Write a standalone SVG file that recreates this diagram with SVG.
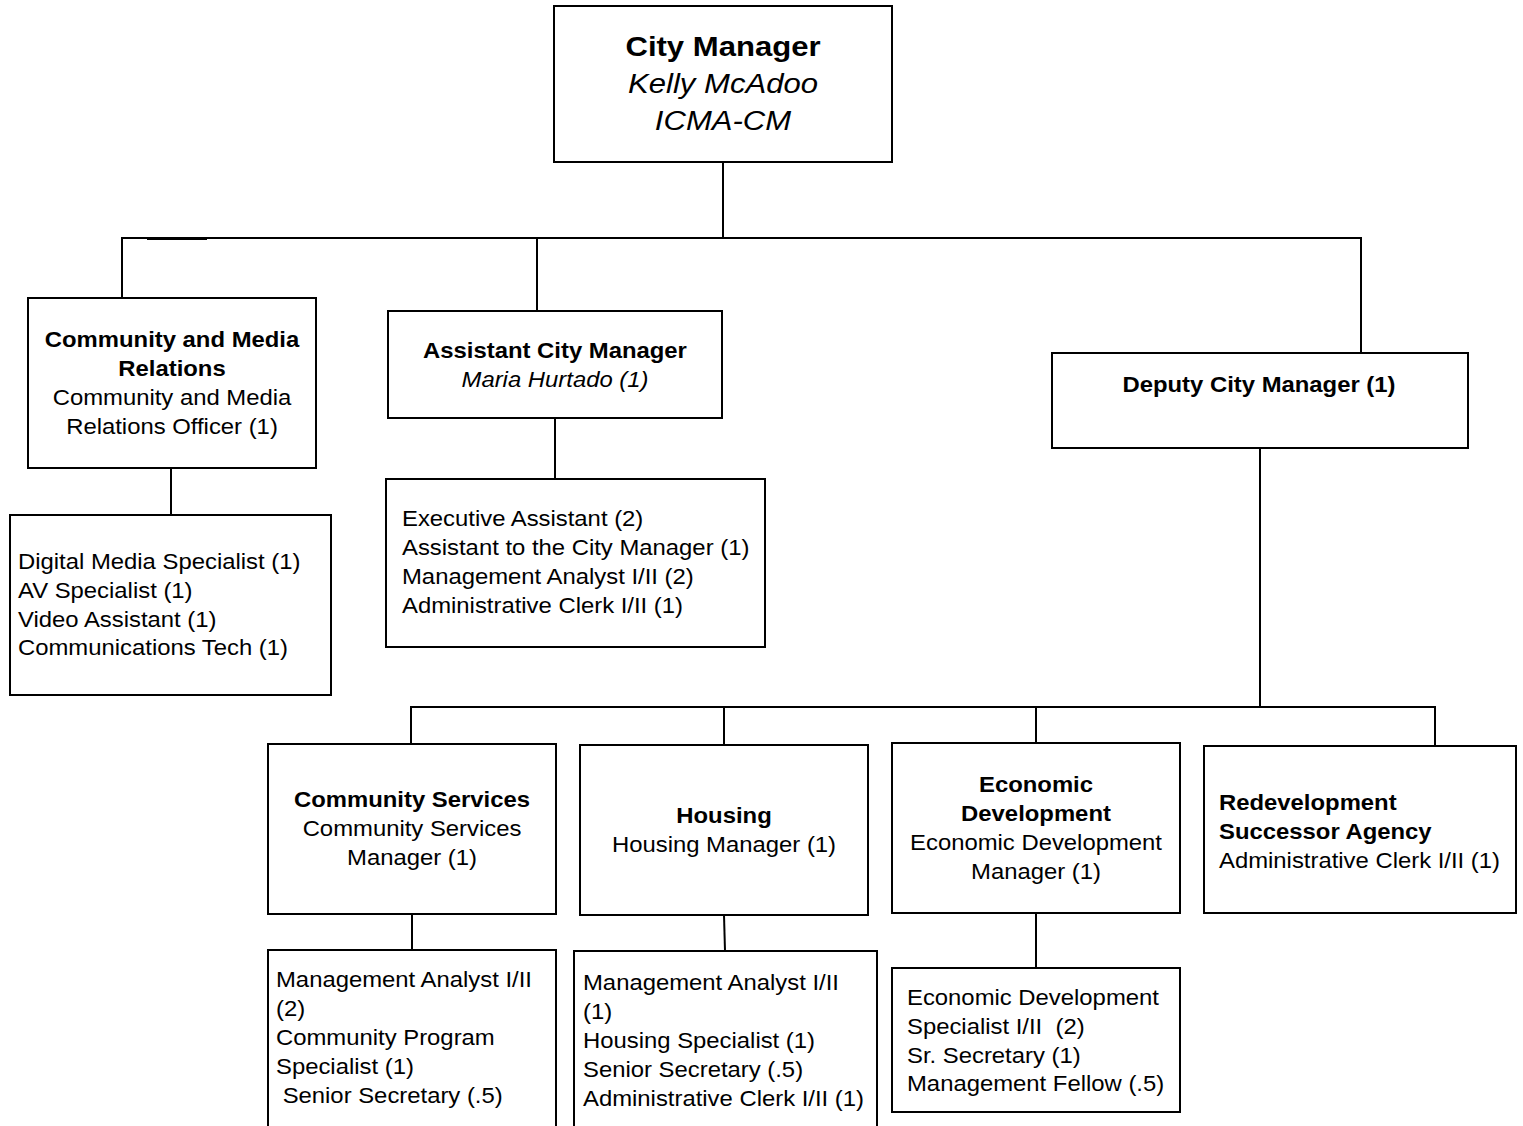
<svg xmlns="http://www.w3.org/2000/svg" width="1523" height="1126" viewBox="0 0 1523 1126">
  <style>
    .box { fill: #ffffff; stroke: #000000; stroke-width: 2; }
    .wire { fill: none; stroke: #000000; stroke-width: 2; }
    text { font-family: "Liberation Sans", Arial, sans-serif; font-size: 21.5px; fill: #000000; }
    .b { font-weight: bold; }
    .i { font-style: italic; }
    .c { text-anchor: middle; }
    .big { font-size: 28px; }
  </style>
  <rect width="1523" height="1126" fill="#ffffff"/>

  <!-- reporting lines -->
  <g id="connectors">
    <line class="wire" x1="723" y1="162" x2="723" y2="238"/>
    <polyline class="wire" points="122,298 122,238 1361,238 1361,353"/>
    <line class="wire" x1="147" y1="239" x2="207" y2="239"/>
    <line class="wire" x1="537" y1="238" x2="537" y2="311"/>
    <line class="wire" x1="171" y1="468" x2="171" y2="515"/>
    <line class="wire" x1="555" y1="418" x2="555" y2="479"/>
    <line class="wire" x1="1260" y1="448" x2="1260" y2="707"/>
    <polyline class="wire" points="411,744 411,707 1435,707 1435,746"/>
    <line class="wire" x1="724" y1="707" x2="724" y2="745"/>
    <line class="wire" x1="1036" y1="707" x2="1036" y2="743"/>
    <line class="wire" x1="412" y1="914" x2="412" y2="950"/>
    <line class="wire" x1="724" y1="915" x2="725" y2="951"/>
    <line class="wire" x1="1036" y1="913" x2="1036" y2="968"/>
  </g>

  <g id="city-manager">
    <rect class="box" x="554" y="6" width="338" height="156"/>
    <text class="b c big" transform="translate(723 56) scale(1.11 1)">City Manager</text>
    <text class="i c big" transform="translate(723 93) scale(1.11 1)">Kelly McAdoo</text>
    <text class="i c big" transform="translate(723 130) scale(1.11 1)">ICMA-CM</text>
  </g>

  <g id="community-media-relations">
    <rect class="box" x="28" y="298" width="288" height="170"/>
    <text class="b c" transform="translate(172 347) scale(1.11 1)">Community and Media</text>
    <text class="b c" transform="translate(172 376) scale(1.11 1)">Relations</text>
    <text class="c" transform="translate(172 405) scale(1.11 1)">Community and Media</text>
    <text class="c" transform="translate(172 434) scale(1.11 1)">Relations Officer (1)</text>
  </g>

  <g id="community-media-staff">
    <rect class="box" x="10" y="515" width="321" height="180"/>
    <text transform="translate(18 569) scale(1.11 1)">Digital Media Specialist (1)</text>
    <text transform="translate(18 598) scale(1.11 1)">AV Specialist (1)</text>
    <text transform="translate(18 627) scale(1.11 1)">Video Assistant (1)</text>
    <text transform="translate(18 655) scale(1.11 1)">Communications Tech (1)</text>
  </g>

  <g id="assistant-city-manager">
    <rect class="box" x="388" y="311" width="334" height="107"/>
    <text class="b c" transform="translate(555 358) scale(1.11 1)">Assistant City Manager</text>
    <text class="i c" transform="translate(555 387) scale(1.11 1)">Maria Hurtado (1)</text>
  </g>

  <g id="assistant-city-manager-staff">
    <rect class="box" x="386" y="479" width="379" height="168"/>
    <text transform="translate(402 526) scale(1.11 1)">Executive Assistant (2)</text>
    <text transform="translate(402 555) scale(1.11 1)">Assistant to the City Manager (1)</text>
    <text transform="translate(402 584) scale(1.11 1)">Management Analyst I/II (2)</text>
    <text transform="translate(402 613) scale(1.11 1)">Administrative Clerk I/II (1)</text>
  </g>

  <g id="deputy-city-manager">
    <rect class="box" x="1052" y="353" width="416" height="95"/>
    <text class="b c" transform="translate(1259 392) scale(1.11 1)">Deputy City Manager (1)</text>
  </g>

  <g id="community-services">
    <rect class="box" x="268" y="744" width="288" height="170"/>
    <text class="b c" transform="translate(412 807) scale(1.11 1)">Community Services</text>
    <text class="c" transform="translate(412 836) scale(1.11 1)">Community Services</text>
    <text class="c" transform="translate(412 865) scale(1.11 1)">Manager (1)</text>
  </g>

  <g id="community-services-staff">
    <rect class="box" x="268" y="950" width="288" height="190"/>
    <text transform="translate(276 987) scale(1.11 1)">Management Analyst I/II</text>
    <text transform="translate(276 1016) scale(1.11 1)">(2)</text>
    <text transform="translate(276 1045) scale(1.11 1)">Community Program</text>
    <text transform="translate(276 1074) scale(1.11 1)">Specialist (1)</text>
    <text transform="translate(276 1103) scale(1.11 1)" xml:space="preserve"> Senior Secretary (.5)</text>
  </g>

  <g id="housing">
    <rect class="box" x="580" y="745" width="288" height="170"/>
    <text class="b c" transform="translate(724 823) scale(1.11 1)">Housing</text>
    <text class="c" transform="translate(724 852) scale(1.11 1)">Housing Manager (1)</text>
  </g>

  <g id="housing-staff">
    <rect class="box" x="574" y="951" width="303" height="190"/>
    <text transform="translate(583 990) scale(1.11 1)">Management Analyst I/II</text>
    <text transform="translate(583 1019) scale(1.11 1)">(1)</text>
    <text transform="translate(583 1048) scale(1.11 1)">Housing Specialist (1)</text>
    <text transform="translate(583 1077) scale(1.11 1)">Senior Secretary (.5)</text>
    <text transform="translate(583 1106) scale(1.11 1)">Administrative Clerk I/II (1)</text>
  </g>

  <g id="economic-development">
    <rect class="box" x="892" y="743" width="288" height="170"/>
    <text class="b c" transform="translate(1036 792) scale(1.11 1)">Economic</text>
    <text class="b c" transform="translate(1036 821) scale(1.11 1)">Development</text>
    <text class="c" transform="translate(1036 850) scale(1.11 1)">Economic Development</text>
    <text class="c" transform="translate(1036 879) scale(1.11 1)">Manager (1)</text>
  </g>

  <g id="economic-development-staff">
    <rect class="box" x="892" y="968" width="288" height="144"/>
    <text transform="translate(907 1005) scale(1.11 1)" xml:space="preserve">Economic Development</text>
    <text transform="translate(907 1034) scale(1.11 1)" xml:space="preserve">Specialist I/II  (2)</text>
    <text transform="translate(907 1063) scale(1.11 1)">Sr. Secretary (1)</text>
    <text transform="translate(907 1091) scale(1.11 1)">Management Fellow (.5)</text>
  </g>

  <g id="redevelopment-successor-agency">
    <rect class="box" x="1204" y="746" width="312" height="167"/>
    <text class="b" transform="translate(1219 810) scale(1.11 1)">Redevelopment</text>
    <text class="b" transform="translate(1219 839) scale(1.11 1)">Successor Agency</text>
    <text transform="translate(1219 868) scale(1.11 1)">Administrative Clerk I/II (1)</text>
  </g>
</svg>
